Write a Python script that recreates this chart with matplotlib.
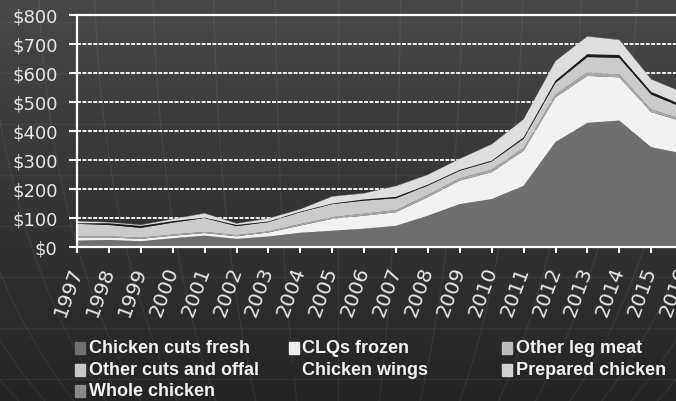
import numpy as np
import matplotlib
matplotlib.use('Agg')
import matplotlib.pyplot as plt
from matplotlib.colors import LinearSegmentedColormap
from matplotlib.patches import Rectangle

W, H = 676, 402

years = list(range(1997, 2017))

# spend per category, $ millions
fresh = [22, 24, 20, 30, 39, 28, 36, 49, 56, 63, 73, 108, 148, 165, 211, 362, 428, 436, 344, 322]
clqs = [11, 9, 8, 9, 9, 9, 14, 25, 41, 45, 47, 64, 81, 93, 121, 154, 162, 149, 121, 110]
leg_meat = [4, 4, 4, 4, 4, 4, 4, 5, 6, 7, 7, 8, 8, 9, 9, 10, 13, 10, 9, 8]
other_cuts = [43, 39, 34, 41, 48, 31, 32, 41, 45, 45, 41, 32, 26, 28, 32, 40, 52, 57, 52, 40]
wings = [2, 6, 7, 5, 2, 4, 2, 2, 2, 4, 5, 3, 3, 3, 5, 8, 10, 10, 9, 9]
prepared = [7, 3, 3, 7, 14, 5, 10, 8, 24, 21, 37, 34, 38, 56, 62, 67, 61, 52, 43, 44]
whole = [1, 1, 1, 1, 1, 1, 1, 1, 1, 1, 1, 1, 1, 1, 1, 1, 1, 1, 1, 1]

series = [fresh, clqs, leg_meat, other_cuts, wings, prepared, whole]
names = ['Chicken cuts fresh', 'CLQs frozen', 'Other leg meat',
         'Other cuts and offal', 'Chicken wings', 'Prepared chicken',
         'Whole chicken']
fills = ['#6f6f6f', '#f2f2f2', '#a8a8a8', '#cbcbcb', '#1c1c1c', '#dedede', '#8c8c8c']
swatches = ['#707070', '#ededed', '#bcbcbc', '#c8c8c8', '#272727', '#d2d2d2', '#8a8a8a']

fig = plt.figure(figsize=(W / 100, H / 100), dpi=100)

# dark gradient backdrop with faint globe lines
bg = fig.add_axes([0, 0, 1, 1])
bg.set_xlim(0, W)
bg.set_ylim(H, 0)
bg.axis('off')
cmap = LinearSegmentedColormap.from_list('bg', ['#484848', '#353535', '#242424'])
bg.imshow(np.linspace(0, 1, 256)[:, None], cmap=cmap, aspect='auto',
          extent=[0, W, H, 0])
cx, cy, R = 338, -50, 600
ys = np.linspace(0, H, 120)
lat = np.arcsin(np.clip((cy - ys) / R, -1, 1))
for lon in np.deg2rad(np.arange(-60, 61, 6)):
    bg.plot(cx + R * np.sin(lon) * np.cos(lat), ys, color='white', alpha=0.06, lw=1)
for yy in np.arange(23, H, 51):
    bg.axhline(yy, color='white', alpha=0.05, lw=1)

ax = fig.add_axes([77 / W, 1 - 248 / H, 19 * 31.9 / W, 232 / H])
ax.set_facecolor('none')
x = np.arange(len(years))
ax.stackplot(x, *series, colors=fills, linewidth=0, zorder=2)
ax.set_xlim(0, 19)
ax.set_ylim(0, 800)

for v in range(100, 800, 100):
    ax.axhline(v, color='white', lw=1.3, ls=(0, (2.2, 0.8)), zorder=1)

for side in ['top', 'left', 'bottom']:
    ax.spines[side].set_color('white')
    ax.spines[side].set_linewidth(1.6)
ax.spines['right'].set_visible(False)

ax.set_yticks(range(0, 801, 100))
ax.set_yticklabels(['$%d' % v for v in range(0, 801, 100)])
ax.tick_params(axis='y', direction='out', length=6, width=1.5, color='white',
               labelcolor='#e8e8e8', labelsize=13, pad=8)
ax.set_xticks(x)
ax.set_xticklabels([str(y) for y in years], rotation=70, ha='right',
                   va='center', rotation_mode='anchor')
ax.tick_params(axis='x', direction='out', length=4.5, width=1.5, color='white',
               labelcolor='#e8e8e8', labelsize=14.5, pad=10)

# legend laid out in fixed columns, row by row
for i, (name, c) in enumerate(zip(names, swatches)):
    col, row = i % 3, i // 3
    lx = 75 + 213.5 * col
    ly = 349 + 21.5 * row
    fig.patches.append(Rectangle(((lx) / W, 1 - (ly + 6) / H), 10 / W, 12 / H,
                                 transform=fig.transFigure, color=c))
    fig.text((lx + 14) / W, 1 - ly / H, name, color='#f2f2f2', fontsize=13,
             fontweight='bold', family='Liberation Sans',
             va='center', ha='left')

fig.savefig('out.png', dpi=100)
